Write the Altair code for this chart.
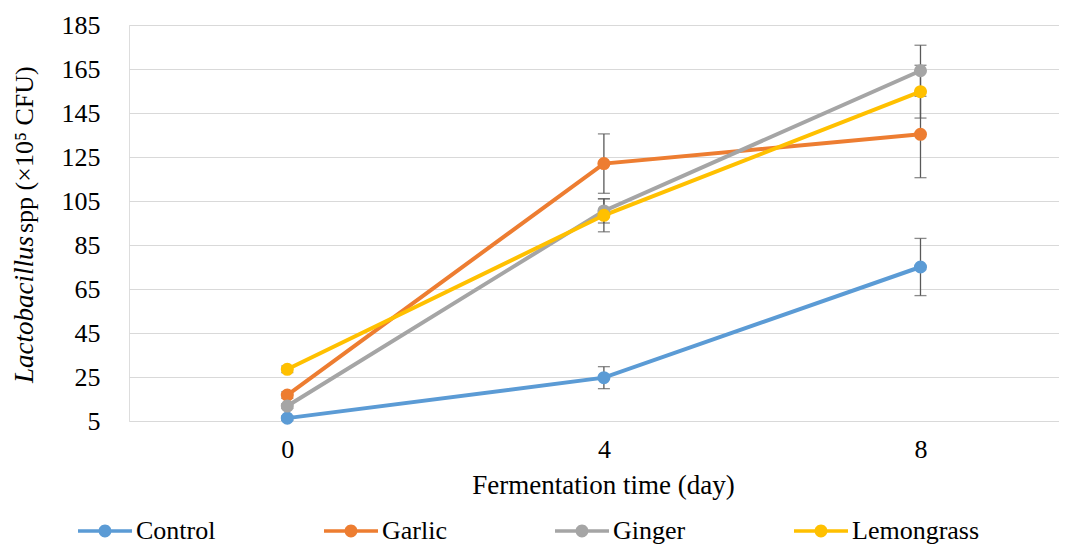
import altair as alt
import pandas as pd

days = [0, 4, 8]
series_names = ["Control", "Garlic", "Ginger", "Lemongrass"]
colors = ["#5B9BD5", "#ED7D31", "#A5A5A5", "#FFC000"]

control = [6.3, 24.7, 75.0]
control_err = [1.0, 5.0, 13.0]
garlic = [16.8, 122.0, 135.3]
garlic_err = [1.5, 13.5, 19.7]
ginger = [11.8, 100.5, 164.2]
ginger_err = [1.0, 5.5, 11.6]
lemongrass = [28.5, 98.5, 154.7]
lemongrass_err = [1.5, 7.5, 12.0]

y_ticks = [5, 25, 45, 65, 85, 105, 125, 145, 165, 185]
x_ticks = [0, 4, 8]

values = [control, garlic, ginger, lemongrass]
errors = [control_err, garlic_err, ginger_err, lemongrass_err]

rows = []
for name, vals, errs in zip(series_names, values, errors):
    for d, v, e in zip(days, vals, errs):
        rows.append({"day": d, "value": v, "lo": v - e, "hi": v + e, "series": name})
df = pd.DataFrame(rows)

caps = pd.concat([
    df[["day", "lo"]].rename(columns={"lo": "cap"}),
    df[["day", "hi"]].rename(columns={"hi": "cap"}),
])

FONT = "Liberation Serif"

xscale = alt.Scale(domain=[-2, 9.75], nice=False, zero=False)
yscale = alt.Scale(domain=[5, 185], nice=False, zero=False)

x_enc = alt.X(
    "day:Q", scale=xscale,
    axis=alt.Axis(values=x_ticks, format="d", grid=False, domain=False, ticks=False,
                  labelFontSize=26, labelFont=FONT, labelColor="#000000", labelPadding=15,
                  title="Fermentation time (day)", titleFont=FONT, titleFontSize=27,
                  titleFontWeight="normal", titleColor="#000000", titlePadding=10,
                  titleX=474, titleAlign="center"),
)
y_axis = alt.Axis(values=y_ticks, grid=True, gridColor="#D9D9D9", gridWidth=1,
                  domain=False, ticks=False, labelFontSize=26, labelFont=FONT,
                  labelColor="#000000", labelPadding=29, title=None)

legend = alt.Legend(
    orient="none", legendX=-51, legendY=479, direction="horizontal", columns=4,
    columnPadding=108, title=None, padding=0,
    symbolType="M-1,-0.065 H1 V0.065 H-1 Z M0.24,0 A0.24,0.24 0 1,1 -0.24,0 A0.24,0.24 0 1,1 0.24,0 Z",
    symbolSize=2916, symbolStrokeWidth=0, symbolOpacity=1,
    labelFont=FONT, labelFontSize=26, labelColor="#000000", labelOffset=4,
)
color_enc = alt.Color("series:N", scale=alt.Scale(domain=series_names, range=colors), legend=legend)

base = alt.Chart(df)

rules = base.mark_rule(color="#595959", strokeWidth=1.3).encode(
    x=x_enc, y=alt.Y("lo:Q", scale=yscale, axis=y_axis), y2="hi:Q"
)
cap_marks = alt.Chart(caps).mark_tick(color="#595959", orient="horizontal", size=12, thickness=1.3).encode(
    x=alt.X("day:Q", scale=xscale), y=alt.Y("cap:Q", scale=yscale)
)
lines = base.mark_line(strokeWidth=4).encode(
    x=alt.X("day:Q", scale=xscale), y=alt.Y("value:Q", scale=yscale), color=color_enc
)
points = base.mark_point(filled=True, size=170, opacity=1).encode(
    x=alt.X("day:Q", scale=xscale), y=alt.Y("value:Q", scale=yscale), color=color_enc,
    order=alt.Order("series:N")
)

ytitle1 = alt.Chart(pd.DataFrame({"t": ["Lactobacillus"]})).mark_text(
    angle=270, align="left", baseline="middle", font=FONT, fontSize=27,
    fontStyle="italic", color="#000000"
).encode(text="t:N", x=alt.value(-104), y=alt.value(358))
ytitle2 = alt.Chart(pd.DataFrame({"t": ["spp (×10⁵ CFU)"]})).mark_text(
    angle=270, align="left", baseline="middle", font=FONT, fontSize=26,
    color="#000000"
).encode(text="t:N", x=alt.value(-104), y=alt.value(208))

chart = alt.layer(rules, cap_marks, lines, points, ytitle1, ytitle2).properties(
    width=930, height=396,
    padding={"left": 121, "top": 17, "right": 0, "bottom": 127},
    autosize=alt.AutoSizeParams(type="none"),
).configure_view(stroke=None).configure(background="#ffffff").configure_axis(
    labelFont=FONT, titleFont=FONT
).configure_legend(labelFont=FONT)

chart.save("out.html", embed_options={"renderer": "svg", "actions": False})
